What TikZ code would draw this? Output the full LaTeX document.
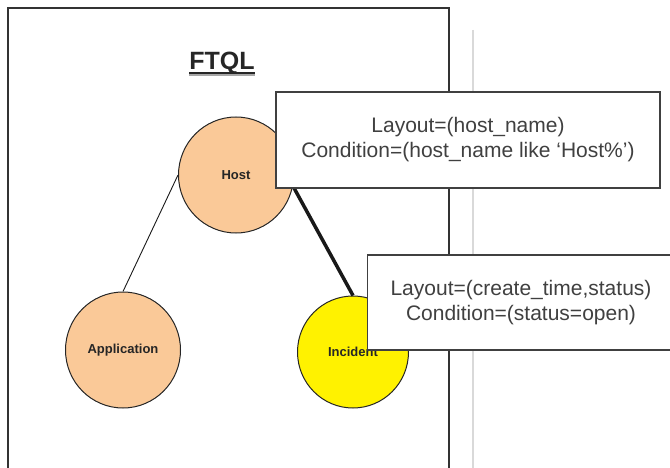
\documentclass[tikz,border=0pt]{standalone}
\usepackage{fontspec}
\setmainfont{Liberation Sans}
\usetikzlibrary{shapes.geometric}
\definecolor{peach}{RGB}{250,201,152}
\definecolor{framegray}{RGB}{51,51,51}

\begin{document}
\begin{tikzpicture}[
    x=1pt, y=-1pt,
    bubble/.style={ellipse, draw=black!85, fill=peach, line width=1pt, minimum width=115pt, minimum height=116pt, inner sep=0pt, font=\fontsize{13}{15}\selectfont\bfseries, text=black!85},
    note/.style={rectangle, draw=black!75, fill=white, line width=1.4pt, align=center, font=\fontsize{21}{25}\selectfont, text=black!75},
    line/.style={draw, black!90}
]
\clip (0,0) rectangle (670,468);
\fill [white] (0,0) rectangle (670,468);

% page frame
\draw [framegray, line width=1.6pt] (8,480) -- (8,8) -- (449,8) -- (449,480);
\draw [black!15, line width=1.2pt] (473,30) -- (473,480);

\node [font=\fontsize{25}{30}\selectfont\bfseries, text=black!85, inner sep=0pt, anchor=base] (ftql) at (222,70) {FTQL};
\draw [black!35, line width=2pt] ([yshift=-5.5pt]ftql.base west) -- ([yshift=-5.5pt]ftql.base east);
\draw [black!85, line width=1.2pt] ([yshift=-3pt]ftql.base west) -- ([yshift=-3pt]ftql.base east);

\node [bubble] (host) at (236,175) {Host};
\node [bubble] (application) at (123,350) {Application};
\node [bubble, fill=yellow, minimum width=111pt, minimum height=112pt] (incident) at (353,352) {Incident};

\path [line, line width=0.9pt] (host.west) -- (application.north);
\path [line, line width=3.5pt] (host.-11) -- (incident.north);

\node [note, minimum width=384pt, minimum height=96pt] (hostnote) at (468,140) {Layout=(host\_name)\\Condition=(host\_name like ‘Host\%’)};
\node [note, minimum width=307pt, minimum height=95pt] (incidentnote) at (521,302.5) {Layout=(create\_time,status)\\Condition=(status=open)};
\end{tikzpicture}
\end{document}
